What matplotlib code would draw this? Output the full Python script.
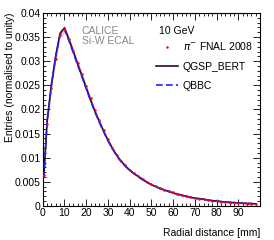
import numpy as np
import matplotlib.pyplot as plt
from matplotlib.ticker import MultipleLocator

plt.rcParams['font.family'] = ['Liberation Sans', 'DejaVu Sans']

# radial profile of 10 GeV pi- showers
radial = [0.5, 2, 4, 6, 8, 10, 12, 14, 16, 18, 20, 22, 24, 26, 28, 30, 32, 34, 36, 38,
          40, 42, 44, 46, 48, 50, 52, 54, 56, 58, 60, 62, 64, 66, 68, 70, 72, 74, 76, 78,
          80, 82, 84, 86, 88, 90, 92, 94, 96, 98]
data = [0.0065, 0.0170, 0.0245, 0.0305, 0.0355, 0.0367, 0.0345, 0.0322, 0.0297, 0.0273,
        0.0248, 0.0223, 0.0198, 0.0178, 0.0157, 0.0138, 0.0121, 0.0106, 0.0094, 0.0084,
        0.0075, 0.0068, 0.0062, 0.0056, 0.0050, 0.0045, 0.0041, 0.0037, 0.0034, 0.0031,
        0.0028, 0.0025, 0.0023, 0.0021, 0.0018, 0.0016, 0.0015, 0.0014, 0.0012, 0.0011,
        0.0010, 0.0009, 0.0008, 0.0007, 0.0007, 0.0006, 0.0006, 0.0005, 0.0005, 0.0004]
qgsp_bert = [0.0060, 0.0175, 0.0252, 0.0312, 0.0358, 0.0369, 0.0346, 0.0321, 0.0295, 0.0270,
             0.0245, 0.0220, 0.0196, 0.0175, 0.0155, 0.0136, 0.0120, 0.0105, 0.0093, 0.0083,
             0.0074, 0.0067, 0.0061, 0.0055, 0.0049, 0.0044, 0.0040, 0.0036, 0.0033, 0.0030,
             0.0027, 0.0024, 0.0022, 0.0020, 0.0018, 0.0016, 0.0015, 0.0014, 0.0012, 0.0011,
             0.0010, 0.0009, 0.0008, 0.0007, 0.0007, 0.0006, 0.0006, 0.0005, 0.0005, 0.0004]
qbbc = [0.0058, 0.0174, 0.0250, 0.0310, 0.0356, 0.0366, 0.0343, 0.0318, 0.0293, 0.0268,
        0.0243, 0.0218, 0.0195, 0.0174, 0.0154, 0.0135, 0.0119, 0.0104, 0.0092, 0.0082,
        0.0074, 0.0067, 0.0060, 0.0054, 0.0049, 0.0044, 0.0040, 0.0036, 0.0033, 0.0030,
        0.0027, 0.0025, 0.0022, 0.0020, 0.0018, 0.0016, 0.0015, 0.0014, 0.0012, 0.0011,
        0.0010, 0.0009, 0.0008, 0.0008, 0.0007, 0.0006, 0.0006, 0.0005, 0.0005, 0.0004]

fig = plt.figure(figsize=(2.74, 2.40), dpi=100)
ax = fig.add_axes([0.156, 0.142, 0.793, 0.804])

d = np.array(data)
ax.fill_between(radial, d * 0.98, d * 1.02, color='#ffc4c4', lw=0, zorder=1)
ax.plot(radial, data, 'o', color='red', ms=1.8, mec='none', zorder=4,
        label=r'$\pi^{-}$ FNAL 2008')
ax.plot(radial, qgsp_bert, '-', color='#2a0a2a', lw=1.2, zorder=2, label='QGSP_BERT')
ax.plot(radial, qbbc, '--', color='#2222ff', lw=1.2, dashes=(4, 2), zorder=3, label='QBBC')

ax.set_xlim(0, 100)
ax.set_ylim(0, 0.04)
ax.xaxis.set_minor_locator(MultipleLocator(2))
ax.yaxis.set_minor_locator(MultipleLocator(0.001))
ax.set_xticks(range(0, 100, 10))
ax.set_yticks([0, 0.005, 0.01, 0.015, 0.02, 0.025, 0.03, 0.035, 0.04])
ax.set_yticklabels(['0', '0.005', '0.01', '0.015', '0.02', '0.025', '0.03', '0.035', '0.04'])
ax.tick_params(which='both', direction='in', top=True, right=True, labelsize=7.5, pad=1.5)
ax.tick_params(which='major', length=5, width=0.6)
ax.tick_params(which='minor', length=2.5, width=0.6)
for s in ax.spines.values():
    s.set_linewidth(0.8)

ax.set_xlabel('Radial distance [mm]', fontsize=7.5, loc='right', labelpad=7)
ax.set_ylabel('Entries (normalised to unity)', fontsize=7.5, loc='top', labelpad=0)

ax.text(0.18, 0.93, 'CALICE\nSi-W ECAL', transform=ax.transAxes, fontsize=7.5,
        color='#888888', va='top', linespacing=1.0)
ax.text(0.535, 0.93, '10 GeV', transform=ax.transAxes, fontsize=7.5, va='top')
ax.legend(loc='upper left', bbox_to_anchor=(0.5, 0.88), frameon=False, fontsize=7.5,
          handlelength=2.2, handletextpad=0.4, labelspacing=0.9, borderaxespad=0)

fig.savefig('out.png', dpi=100)
